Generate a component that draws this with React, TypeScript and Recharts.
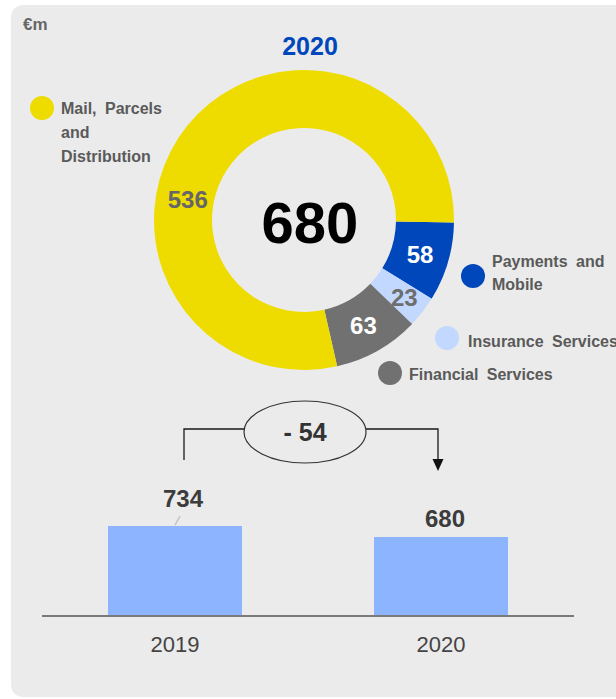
import React from 'react';
import { PieChart, Pie, Cell, BarChart, Bar, XAxis, YAxis, LabelList } from 'recharts';

// ---- data ----
const segmentNames = ['Payments and Mobile', 'Insurance Services', 'Financial Services', 'Mail, Parcels and Distribution'];
const segmentValues = [58, 23, 63, 536];
const segmentColors = ['#0047bb', '#c2d8ff', '#717171', '#eedc00'];
const segmentLabelColors = ['#ffffff', '#6e6e6e', '#ffffff', '#666666'];

const years = ['2019', '2020'];
const revenue = [734, 680];

const unitLabel = '€m';
const donutTitle = '2020';
const totalLabel = '680';
const deltaLabel = '- 54';

const pieData = segmentNames.map((name, i) => ({ name, value: segmentValues[i] }));
const barData = years.map((year, i) => ({ year, value: revenue[i] }));

const FONT = '"Liberation Sans", Arial, sans-serif';
const RAD = Math.PI / 180;
const TEXT_GRAY = '#5a5a5a';

const renderPieLabel = (props: any) => {
  const { cx, cy, midAngle, innerRadius, outerRadius, index, value } = props;
  let angle = midAngle;
  let r = (innerRadius + outerRadius) / 2;
  if (index === 3) {
    angle = 170;
    r = 118;
  }
  if (index === 1) r += 6;
  const x = cx + r * Math.cos(-angle * RAD);
  const y = cy + r * Math.sin(-angle * RAD);
  return (
    <text
      x={x}
      y={y}
      fill={segmentLabelColors[index]}
      textAnchor="middle"
      dominantBaseline="central"
      fontFamily={FONT}
      fontWeight="bold"
      fontSize={24}
    >
      {value}
    </text>
  );
};

const BAR_LABEL_NUDGE = [
  { dx: 8, dy: -19 },
  { dx: 4, dy: -10 },
];

const renderBarLabel = (props: any) => {
  const { x, y, width, value, index } = props;
  const i = typeof index === 'number' ? index : revenue.indexOf(Number(value));
  const n = BAR_LABEL_NUDGE[i] || { dx: 0, dy: -10 };
  const cxBar = Number(x) + Number(width) / 2;
  return (
    <g>
      {i === 0 && (
        <line x1={cxBar} y1={Number(y) - 1} x2={cxBar + 5} y2={Number(y) - 10} stroke="#c4c4c4" strokeWidth={1.5} />
      )}
      <text
        x={cxBar + n.dx}
        y={Number(y) + n.dy}
        textAnchor="middle"
        fill="#3c3c3c"
        fontFamily={FONT}
        fontWeight="bold"
        fontSize={24}
      >
        {value}
      </text>
    </g>
  );
};

type LegendItem = { color: string; cx: number; cy: number; x: number; lines: { text: string; y: number }[] };

const legendItems: LegendItem[] = [
  {
    color: segmentColors[3], cx: 42, cy: 108, x: 61,
    lines: [{ text: 'Mail, Parcels', y: 114 }, { text: 'and', y: 138 }, { text: 'Distribution', y: 162 }],
  },
  {
    color: segmentColors[0], cx: 473, cy: 276, x: 492,
    lines: [{ text: 'Payments and', y: 267 }, { text: 'Mobile', y: 290 }],
  },
  {
    color: segmentColors[1], cx: 447, cy: 338, x: 468,
    lines: [{ text: 'Insurance Services', y: 347 }],
  },
  {
    color: segmentColors[2], cx: 390, cy: 373, x: 409,
    lines: [{ text: 'Financial Services', y: 380 }],
  },
];

export default function App() {
  return (
    <div style={{ position: 'absolute', left: 0, top: 0, width: 616, height: 699, overflow: 'hidden', background: '#ffffff' }}>
      <div style={{ position: 'absolute', left: 11, top: 5, width: 650, height: 692, background: '#ebebeb', borderRadius: 12 }} />

      <div style={{ position: 'absolute', left: 0, top: 0 }}>
        <PieChart width={616} height={400} margin={{ top: 0, right: 0, bottom: 0, left: 0 }}>
          <Pie
            data={pieData}
            dataKey="value"
            nameKey="name"
            cx={304}
            cy={220}
            innerRadius={92}
            outerRadius={150}
            startAngle={-1}
            endAngle={-361}
            stroke="none"
            isAnimationActive={false}
            label={renderPieLabel}
            labelLine={false}
          >
            {pieData.map((d, i) => (
              <Cell key={d.name} fill={segmentColors[i]} stroke="none" />
            ))}
          </Pie>
        </PieChart>
      </div>

      <div style={{ position: 'absolute', left: 0, top: 380 }}>
        <BarChart width={616} height={319} data={barData} margin={{ top: 92, right: 42, bottom: 43, left: 42 }}>
          <XAxis
            dataKey="year"
            height={40}
            axisLine={{ stroke: '#7a7a7a', strokeWidth: 2 }}
            tickLine={false}
            tickSize={0}
            tickMargin={20}
            tick={{ fill: '#444444', fontSize: 22, fontFamily: FONT }}
          />
          <YAxis hide domain={[292, 1000]} />
          <Bar dataKey="value" fill="#8db4ff" barSize={134} isAnimationActive={false}>
            <LabelList dataKey="value" content={renderBarLabel} />
          </Bar>
        </BarChart>
      </div>

      <svg width={616} height={699} style={{ position: 'absolute', left: 0, top: 0, pointerEvents: 'none' }}>
        <text x={23} y={30} fill="#666666" fontFamily={FONT} fontWeight="bold" fontSize={17}>{unitLabel}</text>
        <text x={310} y={55} fill="#0047bb" textAnchor="middle" fontFamily={FONT} fontWeight="bold" fontSize={25}>{donutTitle}</text>
        <text x={310} y={243} fill="#000000" textAnchor="middle" fontFamily={FONT} fontWeight="bold" fontSize={58}>{totalLabel}</text>

        {legendItems.map((item) => (
          <g key={item.x}>
            <circle cx={item.cx} cy={item.cy} r={12} fill={item.color} />
            {item.lines.map((l) => (
              <text
                key={l.text}
                x={item.x}
                y={l.y}
                fill={TEXT_GRAY}
                fontFamily={FONT}
                fontWeight="bold"
                fontSize={16}
                style={{ wordSpacing: 4 }}
              >
                {l.text}
              </text>
            ))}
          </g>
        ))}

        {/* change bracket */}
        <polyline points="184,460 184,429 244,429" fill="none" stroke="#1a1a1a" strokeWidth={1.3} />
        <polyline points="366,429 438,429 438,460" fill="none" stroke="#1a1a1a" strokeWidth={1.3} />
        <polygon points="432.5,459 443.5,459 438,471" fill="#111111" />
        <ellipse cx={305} cy={432} rx={61} ry={31} fill="#ebebeb" stroke="#333333" strokeWidth={1.2} />
        <text x={305} y={441} textAnchor="middle" fill="#333333" fontFamily={FONT} fontWeight="bold" fontSize={25}>{deltaLabel}</text>
      </svg>
    </div>
  );
}
